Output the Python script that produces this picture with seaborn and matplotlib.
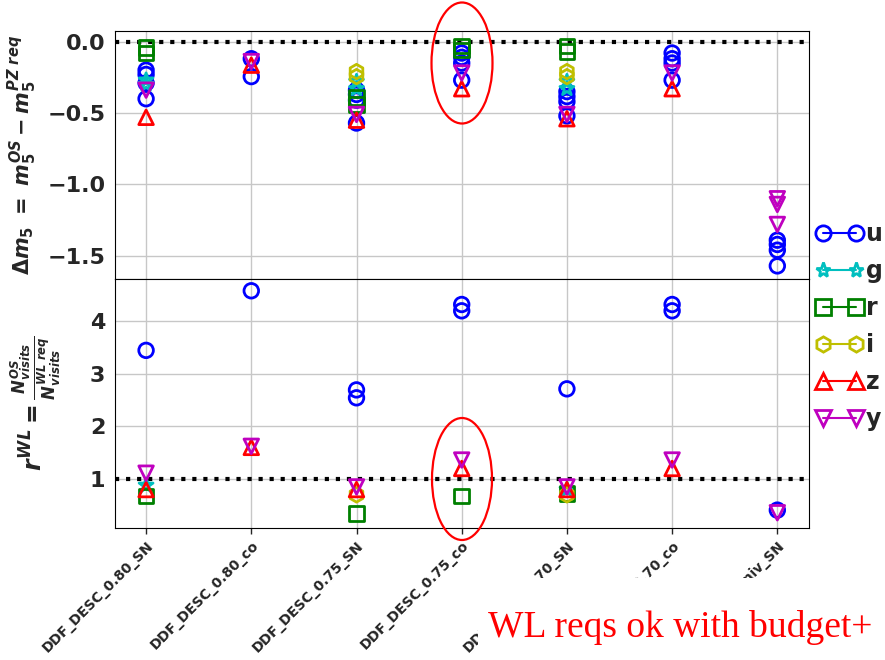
import numpy as np
import pandas as pd
import matplotlib
matplotlib.use("Agg")
import matplotlib.pyplot as plt
from matplotlib.lines import Line2D
from matplotlib.patches import Ellipse, Rectangle
import seaborn as sns

# fields and filters
fields = ["DDF_DESC_0.80_SN", "DDF_DESC_0.80_co", "DDF_DESC_0.75_SN",
          "DDF_DESC_0.75_co", "DDF_DESC_0.70_SN", "DDF_DESC_0.70_co",
          "DDF_Univ_SN"]
bands = ["u", "g", "r", "i", "z", "y"]
band_colors = ["b", "c", "g", "y", "r", "m"]
band_markers = ["o", "*", "s", "h", "^", "v"]

# delta m5 = m5(OS) - m5(PZ req), one list per field
dm5_u = [[-0.20, -0.23, -0.29, -0.40], [-0.12, -0.245], [-0.34, -0.37, -0.41, -0.57],
         [-0.08, -0.11, -0.15, -0.27], [-0.35, -0.385, -0.42, -0.52],
         [-0.08, -0.12, -0.15, -0.27], [-1.39, -1.42, -1.46, -1.57]]
dm5_g = [[-0.27, -0.30], [], [-0.28, -0.33], [], [-0.28, -0.33], [], []]
dm5_r = [[-0.04, -0.08], [], [-0.39, -0.44], [-0.03, -0.06], [-0.03, -0.07], [], []]
dm5_i = [[], [], [-0.21, -0.245], [], [-0.21, -0.245], [], []]
dm5_z = [[-0.53], [-0.165], [-0.55], [-0.33], [-0.54], [-0.33], []]
dm5_y = [[-0.34], [-0.14], [-0.51], [-0.22], [-0.51], [-0.22], [-1.10, -1.14, -1.28]]

# r_WL = N_visits(OS) / N_visits(WL req)
rwl_u = [[3.44], [4.57], [2.69, 2.54], [4.31, 4.19], [2.71], [4.31, 4.19], [0.41]]
rwl_g = [[0.88], [], [], [], [0.80], [], []]
rwl_r = [[0.68], [], [0.35], [0.68], [0.73], [], []]
rwl_i = [[], [], [0.70], [], [0.70], [], []]
rwl_z = [[0.80], [1.60], [0.80], [1.20], [0.80], [1.20], []]
rwl_y = [[1.11], [1.62], [0.85], [1.36], [0.85], [1.36], [0.36]]

dm5_all = [dm5_u, dm5_g, dm5_r, dm5_i, dm5_z, dm5_y]
rwl_all = [rwl_u, rwl_g, rwl_r, rwl_i, rwl_z, rwl_y]


def to_long(per_band):
    rows = []
    for band, per_field in zip(bands, per_band):
        for field, vals in zip(fields, per_field):
            for v in vals:
                rows.append({"band": band, "field": field, "value": v})
    return pd.DataFrame(rows)


df_dm5 = to_long(dm5_all)
df_rwl = to_long(rwl_all)

sns.set_style("whitegrid", {"axes.edgecolor": "black", "grid.color": "0.78",
                            "xtick.bottom": True, "axes.linewidth": 1.0})
plt.rcParams["font.family"] = ["DejaVu Sans"]
plt.rcParams["mathtext.fontset"] = "custom"
plt.rcParams["mathtext.rm"] = "DejaVu Sans:bold"
plt.rcParams["mathtext.it"] = "DejaVu Sans:italic:bold"
plt.rcParams["mathtext.bf"] = "DejaVu Sans:bold"

fig = plt.figure(figsize=(8.85, 6.6), dpi=100)
ax1 = fig.add_axes([0.130, 0.577, 0.784, 0.376])
ax2 = fig.add_axes([0.130, 0.200, 0.784, 0.377], sharex=ax1)

for ax, df in [(ax1, df_dm5), (ax2, df_rwl)]:
    for band, col, mk in zip(bands, band_colors, band_markers):
        sub = df[df["band"] == band]
        if sub.empty:
            continue
        sns.scatterplot(data=sub, x="field", y="value", ax=ax, marker=mk, s=110,
                        color=col, facecolor="none", edgecolor=col, linewidth=2,
                        legend=False, zorder=3)
    ax.set_xlabel("")
    ax.grid(True, color="0.78", linewidth=1)

ax1.axhline(0.0, color="black", ls=":", lw=3, zorder=2)
ax2.axhline(1.0, color="black", ls=":", lw=3, zorder=2)

ax1.set_xlim(-0.295, 6.30)
ax1.set_ylim(-1.663, 0.074)
ax2.set_ylim(0.071, 4.79)
ax1.set_yticks([0.0, -0.5, -1.0, -1.5])
ax2.set_yticks([1, 2, 3, 4])
ax1.tick_params(axis="x", labelbottom=False, bottom=False)
ax2.tick_params(axis="x", bottom=True, length=4, width=1)
for lab in ax1.get_yticklabels() + ax2.get_yticklabels():
    lab.set_fontsize(16)
    lab.set_fontweight("bold")
ax2.set_xticks(range(len(fields)))
ax2.set_xticklabels(fields, rotation=45, ha="right", rotation_mode="anchor",
                    fontsize=10, fontweight="bold")

ax1.set_ylabel(r"$\Delta m_5\ =\ m_5^{OS} - m_5^{PZ\ req}$", fontsize=15)
ax2.set_ylabel(r"$r^{WL} = \frac{N^{OS}_{visits}}{N^{WL\ req}_{visits}}$", fontsize=17)
ax1.yaxis.set_label_coords(-0.11, 0.5)
ax2.yaxis.set_label_coords(-0.075, 0.5)

handles = [Line2D([0], [0], color=c, marker=m, mfc="none", mec=c, mew=2, ms=11, lw=1.5)
           for c, m in zip(band_colors, band_markers)]
fig.legend(handles, bands, loc="center left", bbox_to_anchor=(0.922, 0.505),
           frameon=False, numpoints=2, handlelength=2.0, handletextpad=0.1,
           borderpad=0, borderaxespad=0, labelspacing=0.55,
           prop={"weight": "bold", "size": 17})

# red ellipses highlighting DDF_DESC_0.75_co
W, H = 885.0, 660.0
for cx, cy, w, h in [(462, 63, 61, 121), (462, 479, 60, 122)]:
    fig.patches.append(Ellipse((cx / W, 1 - cy / H), w / W, h / H, transform=fig.transFigure,
                               fill=False, edgecolor="red", lw=1.6, zorder=5))

# slide text box overlapping the tick labels
fig.patches.append(Rectangle((478 / W, 0), 1 - 478 / W, 1 - 578 / H, transform=fig.transFigure,
                             facecolor="white", edgecolor="none", zorder=6))
fig.text(488 / W, 1 - 637 / H, "WL reqs ok with budget+", color="red", fontsize=27,
         family=["Liberation Serif", "DejaVu Serif"], ha="left", va="baseline", zorder=7)

fig.savefig("out.png", dpi=100)
